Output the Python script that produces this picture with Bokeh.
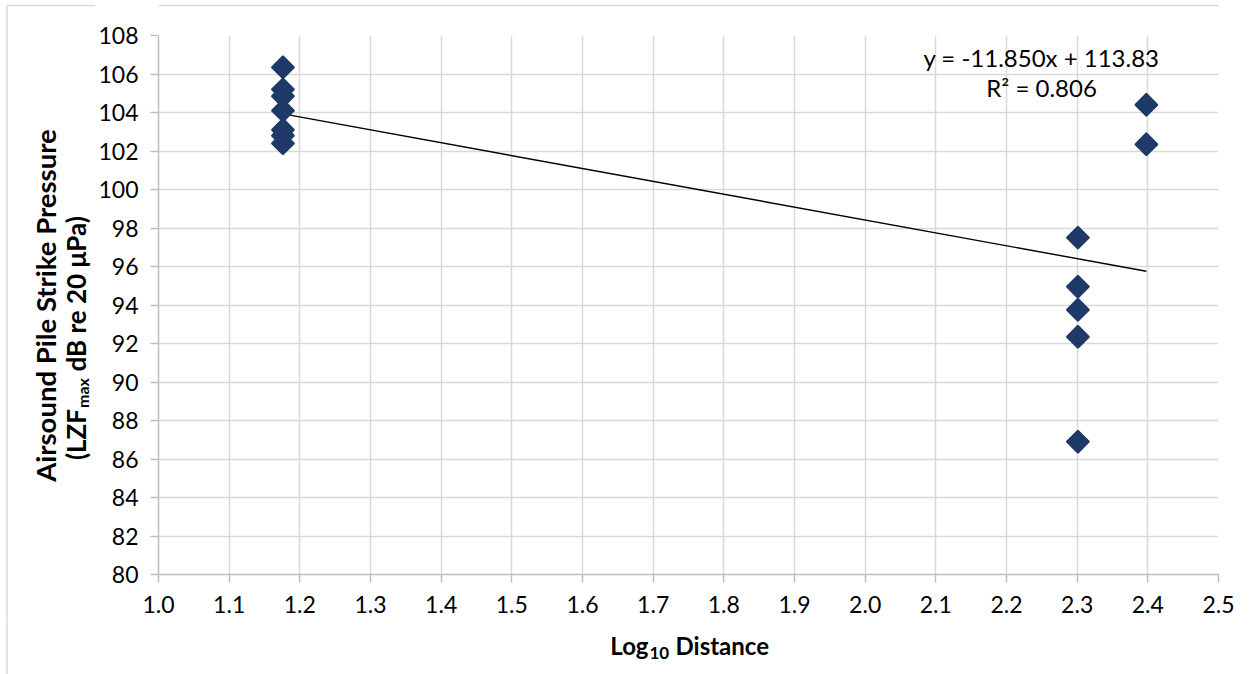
import numpy as np
from bokeh.plotting import figure
from bokeh.layouts import row, column
from bokeh.models import (ColumnDataSource, FixedTicker, PrintfTickFormatter,
                          Range1d, Label)
from bokeh.embed import file_html
from bokeh.resources import INLINE

# ---- data ----
distance_m = [15, 15, 15, 15, 15, 15, 15,
              200, 200, 200, 200, 200,
              250, 250]
pressure_db = [106.35, 105.2, 104.85, 104.1, 103.1, 102.8, 102.4,
               97.5, 94.95, 93.75, 92.35, 86.9,
               104.4, 102.35]
x_ticks = [1.0, 1.1, 1.2, 1.3, 1.4, 1.5, 1.6, 1.7, 1.8, 1.9, 2.0,
           2.1, 2.2, 2.3, 2.4, 2.5]
y_ticks = [80, 82, 84, 86, 88, 90, 92, 94, 96, 98, 100, 102, 104, 106, 108]
eq_text = "y = -11.850x + 113.83"
r2_text = "R\u00b2 = 0.806"

FONT = "Lato"
MARK = "#1F3A68"
BORDER = "#d9d9d9"

log_d = np.log10(np.array(distance_m, dtype=float))
src = ColumnDataSource(dict(x=log_d, y=pressure_db))

# linear trendline fitted to the data
slope, icpt = np.polyfit(log_d, pressure_db, 1)
tx = np.array([log_d.min(), log_d.max()])
trend = ColumnDataSource(dict(x=tx, y=slope * tx + icpt))

# ---- layout sizes ----
W, H = 1252, 674
LW = 95          # left title pane width
TOPH = 20        # top pane height
MAINH = 600      # main figure height
BOTH = H - TOPH - MAINH  # bottom title pane height (54)


def pane(w, h):
    f = figure(width=w, height=h, x_range=Range1d(0, w), y_range=Range1d(0, h),
               output_backend="svg", toolbar_location=None, min_border=0,
               x_axis_type=None, y_axis_type=None)
    f.outline_line_color = None
    f.background_fill_color = "white"
    f.border_fill_color = "white"
    return f


# ---- main plot ----
p = figure(width=W - LW, height=MAINH, output_backend="svg", toolbar_location=None,
           x_range=Range1d(x_ticks[0], x_ticks[-1]),
           y_range=Range1d(y_ticks[0], y_ticks[-1]),
           min_border_left=157 - LW, min_border_right=34,
           min_border_top=35 - TOPH, min_border_bottom=TOPH + MAINH - 574)
p.outline_line_color = None
p.background_fill_color = "white"
p.border_fill_color = "white"

for ax in (p.xaxis[0], p.yaxis[0]):
    ax.axis_line_color = "#bfbfbf"
    ax.axis_line_width = 1.5
    ax.major_tick_line_color = "#bfbfbf"
    ax.major_tick_line_width = 1.5
    ax.major_tick_in = 0
    ax.major_tick_out = 8
    ax.minor_tick_line_color = None
    ax.major_label_text_font = FONT
    ax.major_label_text_font_size = "23px"
    ax.major_label_text_color = "black"

p.xaxis.ticker = FixedTicker(ticks=x_ticks)
p.xaxis.formatter = PrintfTickFormatter(format="%.1f")
p.xaxis.major_label_standoff = 13
p.yaxis.ticker = FixedTicker(ticks=y_ticks)
p.yaxis.major_label_standoff = 12

p.xgrid.ticker = FixedTicker(ticks=x_ticks)
p.ygrid.ticker = FixedTicker(ticks=y_ticks)
p.xgrid.grid_line_color = BORDER
p.ygrid.grid_line_color = BORDER
p.xgrid.grid_line_width = 1.5
p.ygrid.grid_line_width = 1.5

p.line("x", "y", source=trend, line_color="black", line_width=1.4)
p.scatter("x", "y", source=src, marker="square", angle=np.pi / 4, size=15,
          fill_color=MARK, line_color=MARK, line_width=2.5, line_join="round")

# trendline equation (frame-relative screen units)
for txt, cy in ((eq_text, 57), (r2_text, 87)):
    p.add_layout(Label(x=1040 - 157, y=574 - cy, x_units="screen", y_units="screen",
                       text=txt, text_font=FONT, text_font_size="24px",
                       text_align="center", text_baseline="middle",
                       text_color="black"))

bold = dict(text_font=FONT, text_font_style="bold", text_color="black",
            text_baseline="middle")

# ---- top pane: chart border ----
top = pane(W - LW, TOPH)
top.segment(x0=[0], y0=[TOPH - 5], x1=[W - LW], y1=[TOPH - 5],
            line_color=BORDER, line_width=1.5)

# ---- left pane: y title (rotated, reads bottom to top) ----
LH = TOPH + MAINH
left = pane(LW, LH)
left.multi_line(xs=[[6.5, 6.5, LW]], ys=[[0, LH - 5, LH - 5]],
                line_color=BORDER, line_width=1.5)
left.add_layout(Label(x=45, y=LH - 305, text="Airsound Pile Strike Pressure",
                      text_align="center", angle=np.pi / 2,
                      text_font_size="27.5px", **bold))
X2 = 75
left.add_layout(Label(x=X2, y=LH - 408.5, text="(LZF", text_align="right",
                      angle=np.pi / 2, text_font_size="26px", **bold))
left.add_layout(Label(x=X2 + 7, y=LH - 407.5, text="max", text_align="left",
                      angle=np.pi / 2, text_font_size="16px", **bold))
left.add_layout(Label(x=X2, y=LH - 371, text="dB re 20 \u03bcPa)", text_align="left",
                      angle=np.pi / 2, text_font_size="26px", **bold))

# ---- bottom pane: x title ----
bot = pane(W, BOTH)
bot.segment(x0=[6.5], y0=[0], x1=[6.5], y1=[BOTH],
            line_color=BORDER, line_width=1.5)
XL = 648
YL = BOTH - (645 - TOPH - MAINH)
bot.add_layout(Label(x=XL, y=YL, text="Log", text_align="right",
                     text_font_size="24px", **bold))
bot.add_layout(Label(x=XL + 1, y=YL - 7, text="10", text_align="left",
                     text_font_size="17px", **bold))
bot.add_layout(Label(x=XL + 27, y=YL, text="Distance", text_align="left",
                     text_font_size="24px", **bold))

layout = column(row(left, column(top, p, spacing=0), spacing=0), bot, spacing=0)
open("out.html", "w").write(file_html(layout, INLINE))
